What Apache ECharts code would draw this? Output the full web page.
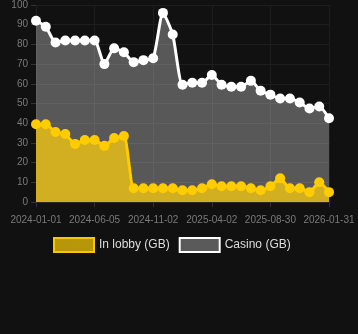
<!DOCTYPE html>
<html>
<head>
<meta charset="utf-8">
<script src="https://cdn.jsdelivr.net/npm/echarts@6/dist/echarts.min.js"></script>
<style>
html,body{margin:0;padding:0;background:#111111;}
#c{width:358px;height:334px;}
</style>
</head>
<body>
<div id="c"></div>
<script>
const categories = ['2024-01-01','2024-01-26','2024-02-21','2024-03-17','2024-04-12','2024-05-09','2024-06-05','2024-06-30','2024-07-25','2024-08-19','2024-09-13','2024-10-08','2024-11-02','2024-11-27','2024-12-22','2025-01-16','2025-02-10','2025-03-07','2025-04-02','2025-04-27','2025-05-22','2025-06-16','2025-07-11','2025-08-05','2025-08-30','2025-09-24','2025-10-19','2025-11-13','2025-12-08','2026-01-03','2026-01-31'];
const inLobby = [39.5,39.5,35.5,34.5,29.5,31.5,31.5,28.5,32.5,33.5,7,7,7,7,7,6,6,7,9,8,8,8,7,6,8,12,7,7,5,10,5];
const casino = [92,89,81,82,82,82,82,70,78,76,71,72,73,96,85,59.5,60.5,60.5,64.5,59.5,58.5,58.5,61.5,56.5,54.5,52.5,52.5,50.5,47.5,48.5,42.5];
const yTicks = [0,10,20,30,40,50,60,70,80,90,100];

const chart = echarts.init(document.getElementById('c'));
chart.setOption({
  backgroundColor: '#111111',
  animation: false,
  grid: {left: 36, right: 29, top: 5, bottom: 132, containLabel: false},
  xAxis: {
    type: 'category',
    data: categories,
    boundaryGap: false,
    axisLine: {show: true, lineStyle: {color: '#2a2a2a'}},
    axisTick: {show: true, interval: 5, lineStyle: {color: '#333'}},
    axisLabel: {interval: 5, color: '#7a7a7a', fontSize: 10, fontFamily: 'Liberation Sans', margin: 13},
    splitLine: {show: true, interval: 5, lineStyle: {color: '#1e1e1e', width: 1}}
  },
  yAxis: {
    type: 'value',
    min: yTicks[0], max: yTicks[yTicks.length-1], interval: 10,
    axisLine: {show: false},
    axisTick: {show: true, length: 5, lineStyle: {color: '#333'}},
    axisLabel: {color: '#7a7a7a', fontSize: 10, fontFamily: 'Liberation Sans', margin: 8},
    splitLine: {show: true, lineStyle: {color: '#1e1e1e', width: 1}}
  },
  legend: {
    top: 237,
    left: 53,
    padding: 0,
    itemWidth: 40,
    itemHeight: 14,
    itemGap: 9,
    icon: 'rect',
    textStyle: {color: '#dddddd', fontSize: 12, fontFamily: 'Liberation Sans'},
    data: [
      {name: 'In lobby (GB)', itemStyle: {color: '#b8960a', borderColor: '#f5c800', borderWidth: 2}},
      {name: 'Casino (GB)', itemStyle: {color: '#5a5a5a', borderColor: '#ffffff', borderWidth: 2}}
    ]
  },
  series: [
    {
      name: 'In lobby (GB)', type: 'line', data: inLobby, z: 3,
      smooth: 0.2, symbol: 'circle', symbolSize: 10, showSymbol: true, showAllSymbol: true,
      lineStyle: {color: '#ffcc00', width: 3},
      itemStyle: {color: '#ffcc00'},
      areaStyle: {color: '#d2ae21', opacity: 1}
    },
    {
      name: 'Casino (GB)', type: 'line', data: casino, z: 2,
      smooth: 0.2, symbol: 'circle', symbolSize: 10, showSymbol: true, showAllSymbol: true,
      lineStyle: {color: '#ffffff', width: 3},
      itemStyle: {color: '#ffffff'},
      areaStyle: {color: 'rgba(255,255,255,0.3)', opacity: 1}
    }
  ]
});
</script>
</body>
</html>
